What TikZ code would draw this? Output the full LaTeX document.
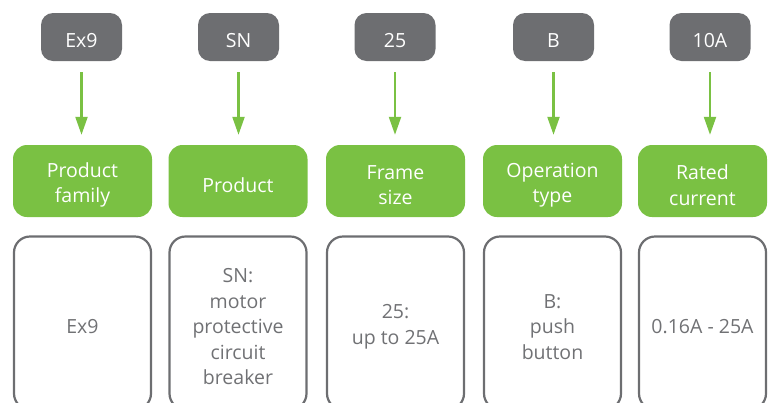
\documentclass[tikz,border=0pt]{standalone}
\usepackage{fontspec}
\setmainfont{Open Sans}
\usetikzlibrary{arrows.meta}
\definecolor{codegray}{HTML}{6D6E71}
\definecolor{leafgreen}{HTML}{7AC143}
\definecolor{textgray}{HTML}{707174}
\tikzset{
  basefont/.style={font=\fontsize{19.5}{25.5}\selectfont, inner sep=0pt, align=center},
  codebox/.style={rectangle, rounded corners=12pt, fill=codegray,
    minimum width=81pt, minimum height=48pt, inner sep=0pt},
  fieldbox/.style={rectangle, rounded corners=14pt, fill=leafgreen,
    minimum width=139pt, minimum height=72pt, inner sep=0pt},
  descbox/.style={rectangle, rounded corners=16pt, draw=codegray, line width=2.2pt,
    minimum width=137pt, minimum height=173pt, inner sep=0pt},
  whitetext/.style={basefont, text=white, yshift=-4pt},
  graytext/.style={basefont, text=textgray, yshift=-4pt},
  flowarrow/.style={draw=leafgreen, line width=2.2pt,
    -{Triangle[width=12pt,length=18pt]}},
}
\begin{document}
\begin{tikzpicture}[x=1pt,y=-1pt]
\useasboundingbox (0,0) rectangle (768,402);
\clip (0,0) rectangle (768,402);
% codes
\node[codebox] (g1) at (81.5,37) {};
\node[codebox] (g2) at (238.5,37) {};
\node[codebox] (g3) at (395,37) {};
\node[codebox] (g4) at (553.5,37) {};
\node[codebox] (g5) at (710,37) {};
\node[whitetext] (g1t) at (g1.center) {Ex9};
\node[whitetext] (g2t) at (g2.center) {SN};
\node[whitetext] (g3t) at (g3.center) {25};
\node[whitetext] (g4t) at (g4.center) {B};
\node[whitetext] (g5t) at (g5.center) {10A};
% fields
\node[fieldbox] (f1) at (82.5,181) {};
\node[fieldbox] (f2) at (238,181) {};
\node[fieldbox] (f3) at (395.5,181) {};
\node[fieldbox] (f4) at (552.5,181) {};
\node[fieldbox, minimum width=129pt] (f5) at (702.5,181) {};
\node[whitetext] (f1t) at (f1.center) {Product\\family};
\node[whitetext] (f2t) at (f2.center) {Product};
\node[whitetext] (f3t) at (f3.center) {Frame\\size};
\node[whitetext] (f4t) at (f4.center) {Operation\\type};
\node[whitetext] (f5t) at (f5.center) {Rated\\current};
% descriptions
\node[descbox] (d1) at (82.5,323) {};
\node[descbox] (d2) at (238,323) {};
\node[descbox] (d3) at (395.5,323) {};
\node[descbox] (d4) at (552.5,323) {};
\node[descbox, minimum width=127pt] (d5) at (702.5,323) {};
\node[graytext] (d1t) at (d1.center) {Ex9};
\node[graytext] (d2t) at (d2.center) {SN:\\motor\\protective\\circuit\\breaker};
\node[graytext] (d3t) at (d3.center) {25:\\up to 25A};
\node[graytext] (d4t) at (d4.center) {B:\\push\\button};
\node[graytext] (d5t) at (d5.center) {0.16A - 25A};
% arrows
\foreach \i in {1,...,5}{
  \draw[flowarrow] ([yshift=-11pt]g\i.south) -- ([yshift=10pt]g\i.south |- f\i.north);
}
\end{tikzpicture}
\end{document}
